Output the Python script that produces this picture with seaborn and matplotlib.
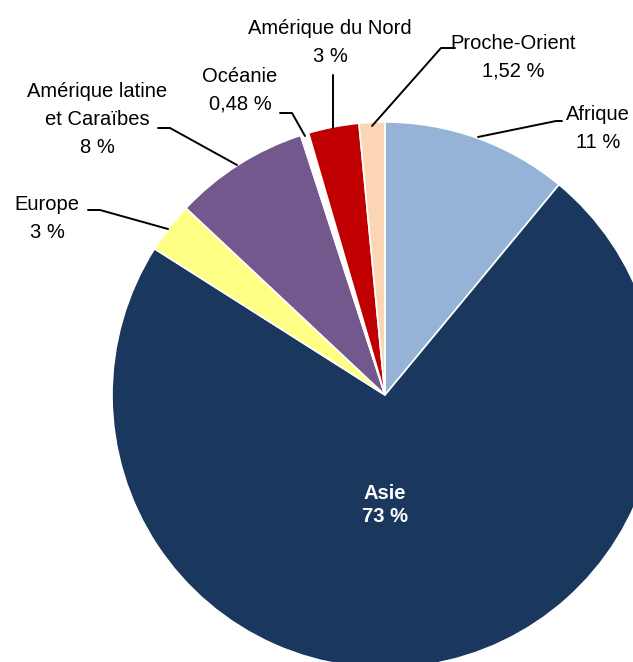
import numpy as np
import matplotlib
matplotlib.use("Agg")
import matplotlib.pyplot as plt
import seaborn as sns

# data (clockwise from 12 o'clock)
regions = ["Afrique", "Asie", "Europe", "Amérique latine\net Caraïbes",
           "Océanie", "Amérique du Nord", "Proche-Orient"]
shares = [11, 73, 3, 8, 0.48, 3, 1.52]
share_labels = ["11 %", "73 %", "3 %", "8 %", "0,48 %", "3 %", "1,52 %"]
colors = ["#95B3D7", "#1A375E", "#FFFF85", "#73588E", "#FFFFFF", "#C00000", "#FCD5B5"]

sns.set_theme(style="white")
plt.rcParams["font.family"] = ["Liberation Sans", "DejaVu Sans"]

W, H = 633, 662
CX, CY, R = 385, 395, 273  # pie centre / radius in pixels


def px(x, y):
    return ((x - CX) / R, (CY - y) / R)


fig = plt.figure(figsize=(W / 100, H / 100), dpi=100)
ax = fig.add_axes([0, 0, 1, 1])
wedges, _ = ax.pie(shares, colors=colors, startangle=90, counterclock=False,
                   radius=1, wedgeprops=dict(edgecolor="white", linewidth=1.2))
ax.set_xlim(px(0, 0)[0], px(W, 0)[0])
ax.set_ylim(px(0, H)[1], px(0, 0)[1])
ax.set_aspect("equal")
ax.axis("off")

# label placement (text centre, elbow, anchor) in pixels
layout = {
    "Afrique": ((598, 128), (556, 121), (478, 137)),
    "Proche-Orient": ((513, 57), (453, 48), (372, 126)),
    "Amérique du Nord": ((330, 42), (333, 75), (333, 128)),
    "Océanie": ((240, 90), (292, 113), (305, 136)),
    "Amérique latine\net Caraïbes": ((97, 119), (170, 128), (237, 165)),
    "Europe": ((47, 218), (100, 210), (168, 229)),
}

for name, lab in zip(regions, share_labels):
    if name == "Asie":
        x, y = px(385, 505)
        ax.text(x, y, f"{name}\n{lab}", ha="center", va="center", color="white",
                fontsize=14.5, fontweight="bold", linespacing=1.3)
        continue
    (tx, ty), (ex, ey), (axx, ayy) = layout[name]
    x, y = px(tx, ty)
    ax.text(x, y, f"{name}\n{lab}", ha="center", va="center", color="black",
            fontsize=14.5, linespacing=1.6)
    # leader line: short horizontal tick then to slice
    if name == "Amérique du Nord":
        pts = [px(ex, ey), px(axx, ayy)]
    elif name == "Afrique":
        pts = [px(ex + 6, ey), px(ex, ey), px(axx, ayy)]
    elif name == "Proche-Orient":
        pts = [px(ex + 2, ey), px(ex - 12, ey), px(axx, ayy)]
    else:
        pts = [px(ex - 12, ey), px(ex, ey), px(axx, ayy)]
    xs, ys = zip(*pts)
    ax.plot(xs, ys, color="black", linewidth=1.4)

fig.savefig("out.png", dpi=100)
